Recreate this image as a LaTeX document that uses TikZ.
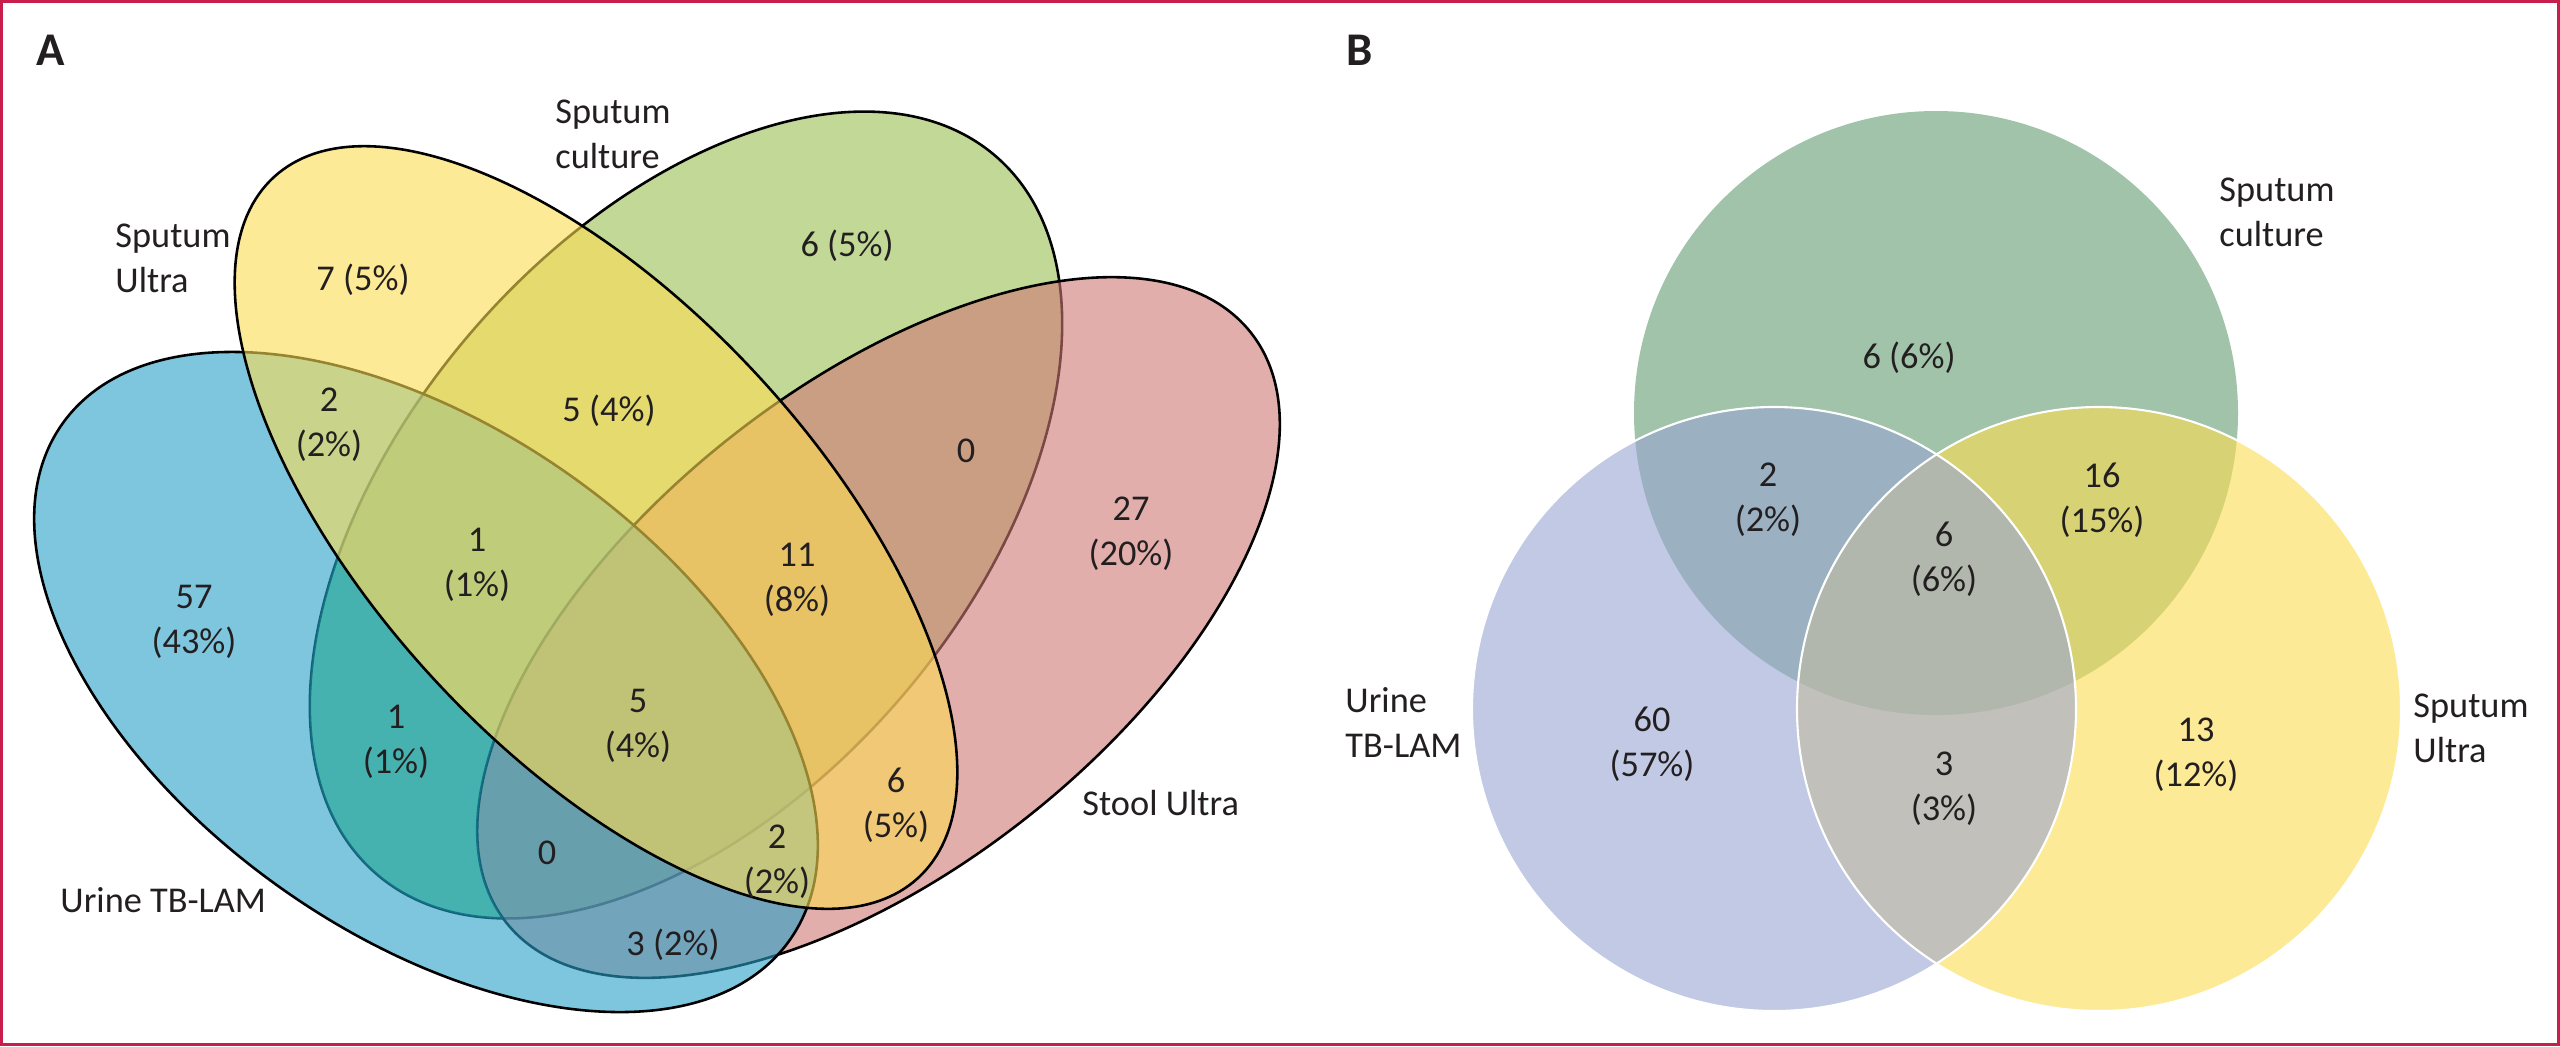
\documentclass[tikz,border=0pt]{standalone}
\usepackage{fontspec}
\setmainfont{Carlito}
\definecolor{txt}{RGB}{35,31,32}
\definecolor{bord}{RGB}{200,30,75}
\definecolor{gA}{RGB}{152,190,83}
\definecolor{pA}{RGB}{208,120,117}
\definecolor{bA}{RGB}{40,160,200}
\definecolor{yA}{RGB}{252,220,83}
\definecolor{tealfix}{RGB}{0,170,170}
\definecolor{gB}{RGB}{97,155,113}
\definecolor{yB}{RGB}{252,220,80}
\definecolor{lB}{RGB}{153,165,210}
\begin{document}
\begin{tikzpicture}[x=0.015cm, y=-0.015cm,
  setA/.style={fill opacity=0.6, draw=black, line width=1.1pt},
  setB/.style={fill opacity=0.6, draw=none},
  rim/.style={draw=white, line width=0.9pt},
  num/.style={text=txt, font=\fontsize{15.5}{19.2}\selectfont, inner sep=0pt, align=center},
  lab/.style={text=txt, font=\fontsize{15.5}{19.2}\selectfont, inner sep=0pt, align=left, anchor=west},
  panel/.style={text=txt, font=\fontsize{20}{24}\selectfont\bfseries, inner sep=0pt}]
\useasboundingbox (0,0) rectangle (2560,1046);
\fill[white] (0,0) rectangle (2560,1046);
\draw[bord, line width=0.04cm] (1.3,1.3) rectangle (2558.7,1044.7);

% ---------- Panel A ----------
\filldraw[setA, fill=gA, rotate around={49.2:(686,515)}] (686,515) ellipse [x radius=474, y radius=282];
\filldraw[setA, fill=pA, rotate around={38.4:(878.5,627.5)}] (878.5,627.5) ellipse [x radius=475, y radius=241];
\filldraw[setA, fill=bA, rotate around={-35.4:(426,682)}] (426,682) ellipse [x radius=446, y radius=252];
% deeper teal where only urine and culture overlap
\begin{scope}
  \clip[rotate around={49.2:(686,515)}] (686,515) ellipse [x radius=474, y radius=282];
  \clip[rotate around={-35.4:(426,682)}] (426,682) ellipse [x radius=446, y radius=252];
  \begin{scope}[even odd rule]
    \clip[rotate around={38.4:(878.5,627.5)}] (-3000,-3000) rectangle (5000,5000) (878.5,627.5) ellipse [x radius=475, y radius=241];
    \clip[rotate around={-47.4:(596,527.5)}] (-3000,-3000) rectangle (5000,5000) (596,527.5) ellipse [x radius=476, y radius=222];
    \fill[tealfix, fill opacity=0.3] (0,0) rectangle (1300,1046);
  \end{scope}
\end{scope}
\filldraw[setA, fill=yA, rotate around={-47.4:(596,527.5)}] (596,527.5) ellipse [x radius=476, y radius=222];

\node[panel] (pA) at (51,50) {A};
\node[lab] (lSU) at (115,258) {Sputum\\Ultra};
\node[lab] (lSC) at (555,134) {Sputum\\culture};
\node[lab] (lST) at (1082,803) {Stool Ultra};
\node[lab] (lUT) at (60,900) {Urine TB-LAM};

\node[num] (a7) at (363,280) {7 (5\%)};
\node[num] (a6t) at (847,246) {6 (5\%)};
\node[num] (a2a) at (329,425) {2\\(2\%)};
\node[num] (a5a) at (609,411) {5 (4\%)};
\node[num] (a0a) at (966,451) {0};
\node[num] (a27) at (1131,534) {27\\(20\%)};
\node[num] (a57) at (194,622) {57\\(43\%)};
\node[num] (a1a) at (477,565) {1\\(1\%)};
\node[num] (a11) at (797,580) {11\\(8\%)};
\node[num] (a1b) at (396,742) {1\\(1\%)};
\node[num] (a5b) at (638,726) {5\\(4\%)};
\node[num] (a6b) at (896,805) {6\\(5\%)};
\node[num] (a0b) at (547,853) {0};
\node[num] (a2b) at (777,862) {2\\(2\%)};
\node[num] (a3) at (673,945) {3 (2\%)};

% ---------- Panel B ----------
\fill[setB, fill=gB] (1936,413) circle [radius=302];
\fill[setB, fill=yB] (2099,709) circle [radius=302];
\fill[setB, fill=lB] (1774,709) circle [radius=302];
\path[rim] (2099,709) circle [radius=302];
\path[rim] (1774,709) circle [radius=302];

\node[panel] (pB) at (1360,50) {B};
\node[lab] (bSC) at (2219,212) {Sputum\\culture};
\node[lab] (bUT) at (1345,722) {Urine\\TB-LAM};
\node[lab] (bSU) at (2413,728) {Sputum\\Ultra};

\node[num] (b6t) at (1909,358) {6 (6\%)};
\node[num] (b2) at (1768,500) {2\\(2\%)};
\node[num] (b16) at (2102,500) {16\\(15\%)};
\node[num] (b6c) at (1944,559) {6\\(6\%)};
\node[num] (b60) at (1652,744) {60\\(57\%)};
\node[num] (b3) at (1944,789) {3\\(3\%)};
\node[num] (b13) at (2196,755) {13\\(12\%)};
\end{tikzpicture}
\end{document}
